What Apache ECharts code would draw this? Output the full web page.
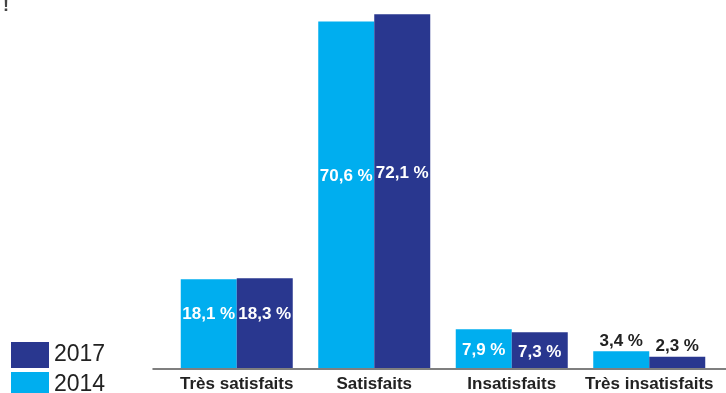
<!DOCTYPE html>
<html>
<head>
<meta charset="utf-8">
<script src="https://cdn.jsdelivr.net/npm/echarts@6/dist/echarts.min.js"></script>
<style>html,body{margin:0;padding:0;background:#fff}#c{width:726px;height:393px}</style>
</head>
<body>
<div id="c"></div>
<script>
const categories = ['Très satisfaits', 'Satisfaits', 'Insatisfaits', 'Très insatisfaits'];
const values2014 = [18.1, 70.6, 7.9, 3.4];
const values2017 = [18.3, 72.1, 7.3, 2.3];
const seriesNames = ['2014', '2017'];

// label placement style per category (inside bar vs on top)
const labelStyle = [
  { position: 'inside', offset: [0, -9], color: '#fff' },
  { position: 'inside', offset: [0, -18], color: '#fff' },
  { position: 'inside', offset: [0, 2], color: '#fff' },
  { position: 'top', offset: [0, 0], distance: 2, color: '#222' }
];
const fmt = v => String(v).replace('.', ',') + ' %';

function buildData(vals) {
  return vals.map((v, i) => ({
    value: v,
    label: Object.assign({ show: true, fontFamily: 'Liberation Sans', fontWeight: 'bold', fontSize: 17, formatter: p => fmt(p.value) }, labelStyle[i])
  }));
}

const legendCommon = {
  orient: 'vertical', left: 11, padding: 0,
  itemWidth: 38, itemHeight: 26, itemGap: 4,
  icon: 'rect', selectedMode: false,
  textStyle: { fontSize: 23, color: '#222', fontFamily: 'Liberation Sans' }
};

const chart = echarts.init(document.getElementById('c'));
chart.setOption({
  animation: false,
  title: { text: '!', left: 3, top: -3, padding: 0, textStyle: { fontSize: 18, color: '#444', fontWeight: 'bold', fontFamily: 'Liberation Sans' } },
  legend: [
    Object.assign({ data: [seriesNames[1]], top: 342 }, legendCommon),
    Object.assign({ data: [seriesNames[0]], top: 372 }, legendCommon)
  ],
  grid: [
    { left: 168, right: 8, top: 0, bottom: 24 },
    { left: 153, right: 0, top: 0, bottom: 24 }
  ],
  xAxis: [
    {
      type: 'category', gridIndex: 0, data: categories,
      axisLine: { show: false }, axisTick: { show: false },
      axisLabel: { margin: 8, fontSize: 17, fontWeight: 'bold', color: '#222', fontFamily: 'Liberation Sans', interval: 0 }
    },
    {
      type: 'category', gridIndex: 1, data: [''],
      axisLine: { show: true, lineStyle: { color: '#555', width: 1.5 } },
      axisTick: { show: false }, axisLabel: { show: false }
    }
  ],
  yAxis: [
    { type: 'value', gridIndex: 0, min: 0, max: 75, show: false, splitLine: { show: false } },
    { type: 'value', gridIndex: 1, min: 0, max: 75, show: false, splitLine: { show: false } }
  ],
  series: [
    {
      name: seriesNames[0], type: 'bar', xAxisIndex: 0, yAxisIndex: 0,
      data: buildData(values2014), barWidth: 56, barGap: '0%',
      itemStyle: { color: '#00aeef' }
    },
    {
      name: seriesNames[1], type: 'bar', xAxisIndex: 0, yAxisIndex: 0,
      data: buildData(values2017), barWidth: 56, barGap: '0%',
      itemStyle: { color: '#29378f' }
    }
  ]
});
</script>
</body>
</html>
